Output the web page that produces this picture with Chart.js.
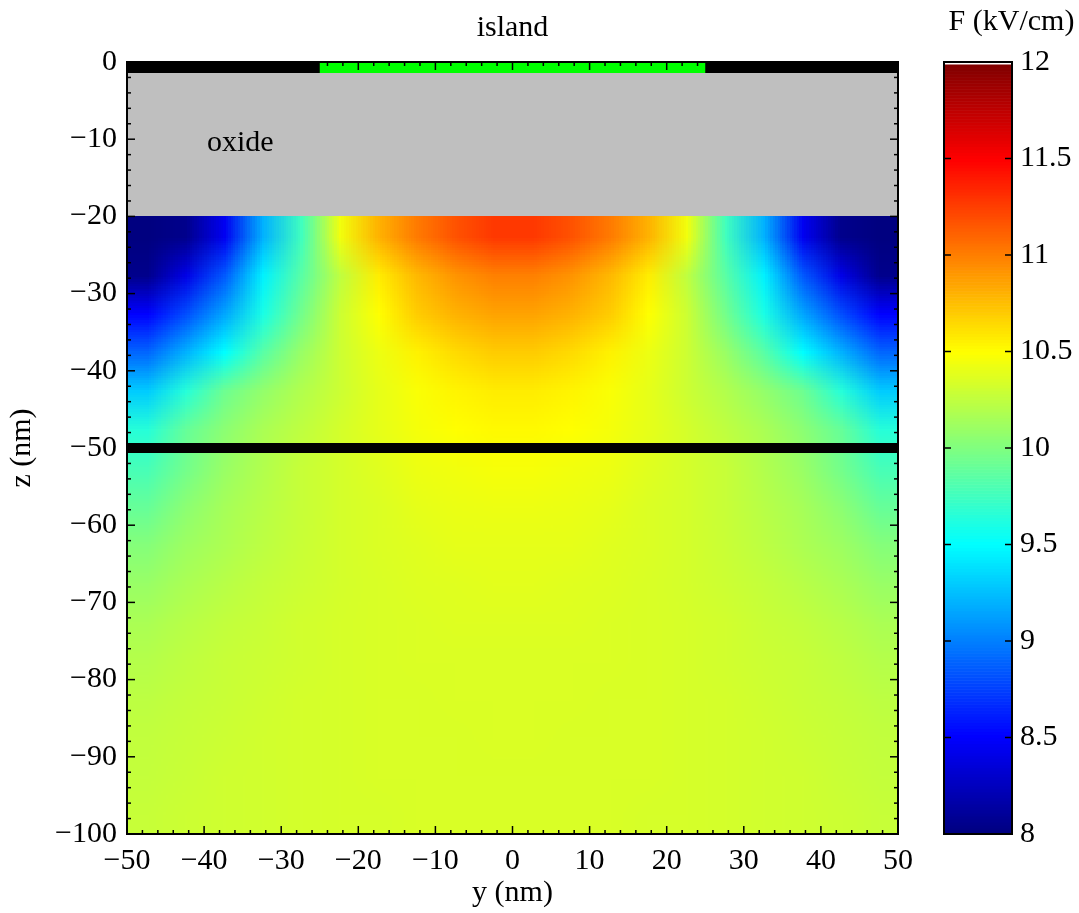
<!DOCTYPE html>
<html>
<head>
<meta charset="utf-8">
<script src="https://cdn.jsdelivr.net/npm/chart.js@4.4.0/dist/chart.umd.min.js"></script>
<style>
  html, body { margin: 0; padding: 0; background: #fff; }
  #wrap { position: relative; width: 1079px; height: 913px; }
  #field { position: absolute; left: 0; top: 0; }
  #bar { position: absolute; left: 937px; top: 0; }
</style>
</head>
<body>
<div id="wrap">
  <canvas id="field" width="1079" height="913"></canvas>
  <canvas id="bar" width="142" height="913"></canvas>
</div>
<script>
// Device geometry (nm)
const contactY = [-50, 50];     // black gate strip at the top
const islandY = [-25, 25];      // green island electrode
const gateZ = -0.7;
const oxideZ = [0, -20];        // oxide layer between z = 0 and -20
const interfaceY = [-50, 50];   // black interface line
const interfaceZ = -50;

// Field samples F (kV/cm): cell centres in y and z, one row per z
const fieldY = [-47.5, -42.5, -37.5, -32.5, -27.5, -22.5, -17.5, -12.5, -7.5, -2.5,
                2.5, 7.5, 12.5, 17.5, 22.5, 27.5, 32.5, 37.5, 42.5, 47.5];
const fieldZ = [-22.5, -27.5, -32.5, -37.5, -42.5, -47.5, -52.5, -57.5,
                -62.5, -67.5, -72.5, -77.5, -82.5, -87.5, -92.5, -97.5];
const fieldF = [
  [7.9, 8.05, 8.45, 9.2, 9.75, 10.45, 10.8, 11.02, 11.18, 11.28, 11.28, 11.18, 11.02, 10.8, 10.45, 9.75, 9.2, 8.45, 8.05, 7.9],
  [8.05, 8.4, 8.85, 9.45, 9.85, 10.25, 10.57, 10.78, 10.92, 11.0, 11.0, 10.92, 10.78, 10.57, 10.25, 9.85, 9.45, 8.85, 8.4, 8.05],
  [8.5, 8.8, 9.15, 9.6, 9.95, 10.3, 10.5, 10.7, 10.8, 10.86, 10.86, 10.8, 10.7, 10.5, 10.3, 9.95, 9.6, 9.15, 8.8, 8.5],
  [8.9, 9.2, 9.5, 9.85, 10.1, 10.3, 10.43, 10.55, 10.64, 10.7, 10.7, 10.64, 10.55, 10.43, 10.3, 10.1, 9.85, 9.5, 9.2, 8.9],
  [9.3, 9.65, 9.93, 10.08, 10.2, 10.3, 10.4, 10.48, 10.54, 10.57, 10.57, 10.54, 10.48, 10.4, 10.3, 10.2, 10.08, 9.93, 9.65, 9.3],
  [9.65, 9.9, 10.05, 10.17, 10.25, 10.33, 10.4, 10.46, 10.5, 10.52, 10.52, 10.5, 10.46, 10.4, 10.33, 10.25, 10.17, 10.05, 9.9, 9.65],
  [9.78, 9.95, 10.1, 10.2, 10.28, 10.33, 10.38, 10.43, 10.45, 10.47, 10.47, 10.45, 10.43, 10.38, 10.33, 10.28, 10.2, 10.1, 9.95, 9.78],
  [9.9, 10.05, 10.15, 10.22, 10.28, 10.33, 10.36, 10.4, 10.42, 10.43, 10.43, 10.42, 10.4, 10.36, 10.33, 10.28, 10.22, 10.15, 10.05, 9.9],
  [10.02, 10.12, 10.18, 10.24, 10.29, 10.33, 10.36, 10.38, 10.4, 10.4, 10.4, 10.4, 10.38, 10.36, 10.33, 10.29, 10.24, 10.18, 10.12, 10.02],
  [10.1, 10.17, 10.22, 10.27, 10.3, 10.33, 10.35, 10.37, 10.38, 10.39, 10.39, 10.38, 10.37, 10.35, 10.33, 10.3, 10.27, 10.22, 10.17, 10.1],
  [10.17, 10.22, 10.26, 10.29, 10.32, 10.34, 10.35, 10.36, 10.37, 10.37, 10.37, 10.37, 10.36, 10.35, 10.34, 10.32, 10.29, 10.26, 10.22, 10.17],
  [10.21, 10.25, 10.28, 10.3, 10.32, 10.34, 10.35, 10.36, 10.36, 10.36, 10.36, 10.36, 10.36, 10.35, 10.34, 10.32, 10.3, 10.28, 10.25, 10.21],
  [10.24, 10.27, 10.29, 10.31, 10.33, 10.34, 10.35, 10.35, 10.36, 10.36, 10.36, 10.36, 10.35, 10.35, 10.34, 10.33, 10.31, 10.29, 10.27, 10.24],
  [10.26, 10.28, 10.3, 10.32, 10.33, 10.34, 10.35, 10.35, 10.35, 10.36, 10.36, 10.35, 10.35, 10.35, 10.34, 10.33, 10.32, 10.3, 10.28, 10.26],
  [10.27, 10.29, 10.31, 10.32, 10.33, 10.34, 10.35, 10.35, 10.35, 10.35, 10.35, 10.35, 10.35, 10.35, 10.34, 10.33, 10.32, 10.31, 10.29, 10.27],
  [10.28, 10.3, 10.31, 10.32, 10.33, 10.34, 10.34, 10.35, 10.35, 10.35, 10.35, 10.35, 10.35, 10.34, 10.34, 10.33, 10.32, 10.31, 10.3, 10.28]
];

// Colour scale
const colorMin = 8;
const colorMax = 12;
const colorLevels = 256;

Chart.defaults.font.family = "'Liberation Serif', 'Times New Roman', serif";
Chart.defaults.font.size = 30;
Chart.defaults.color = "#000";

// MATLAB-like jet colormap, t in [0, 1]
function jet(t) {
  t = Math.min(1, Math.max(0, t));
  const c = (v) => Math.round(255 * Math.min(1, Math.max(0, v)));
  return [c(1.5 - Math.abs(4 * t - 3)), c(1.5 - Math.abs(4 * t - 2)), c(1.5 - Math.abs(4 * t - 1))];
}

// tick labels with a real minus sign
const fmt = (v) => (v < 0 ? "\u2212" + Math.abs(v) : String(v));

function line(ctx, x0, y0, x1, y1) {
  ctx.beginPath();
  ctx.moveTo(x0, y0);
  ctx.lineTo(x1, y1);
  ctx.stroke();
}

// Draws oxide, field map, label, inward ticks and box
const fieldPlugin = {
  id: "fieldMap",
  beforeDatasetsDraw(chart) {
    const { ctx, chartArea, scales: { x, y } } = chart;
    ctx.save();
    ctx.beginPath();
    ctx.rect(chartArea.left, chartArea.top, chartArea.width, chartArea.height);
    ctx.clip();

    // oxide layer
    const ox0 = x.getPixelForValue(contactY[0]);
    const ox1 = x.getPixelForValue(contactY[1]);
    const oz0 = y.getPixelForValue(oxideZ[0]);
    const oz1 = y.getPixelForValue(oxideZ[1]);
    ctx.fillStyle = "#bfbfbf";
    ctx.fillRect(ox0, oz0, ox1 - ox0, oz1 - oz0);

    // field samples, one image pixel per cell, stretched with smoothing
    const img = document.createElement("canvas");
    img.width = fieldY.length;
    img.height = fieldZ.length;
    const ic = img.getContext("2d");
    const pix = ic.createImageData(img.width, img.height);
    fieldF.forEach((row, j) => {
      row.forEach((f, i) => {
        const [r, g, b] = jet((f - colorMin) / (colorMax - colorMin));
        const k = (j * img.width + i) * 4;
        pix.data[k] = r;
        pix.data[k + 1] = g;
        pix.data[k + 2] = b;
        pix.data[k + 3] = 255;
      });
    });
    ic.putImageData(pix, 0, 0);
    const dy = (fieldY[1] - fieldY[0]) / 2;
    const dz = (fieldZ[0] - fieldZ[1]) / 2;
    const x0 = x.getPixelForValue(fieldY[0] - dy);
    const x1 = x.getPixelForValue(fieldY[fieldY.length - 1] + dy);
    const y0 = y.getPixelForValue(fieldZ[0] + dz);
    const y1 = y.getPixelForValue(fieldZ[fieldZ.length - 1] - dz);
    ctx.imageSmoothingEnabled = true;
    ctx.drawImage(img, x0, y0, x1 - x0, y1 - y0);
    ctx.restore();
  },
  afterDatasetsDraw(chart) {
    const { ctx, chartArea: { left, right, top, bottom }, scales: { x, y } } = chart;
    ctx.save();

    // region label
    ctx.fillStyle = "#000";
    ctx.font = "30px 'Liberation Serif', serif";
    ctx.textAlign = "center";
    ctx.textBaseline = "middle";
    ctx.fillText("oxide", x.getPixelForValue(-35.3), y.getPixelForValue(-10.5));

    // inward ticks on all four sides, minor every 2 nm
    ctx.strokeStyle = "#000";
    ctx.lineWidth = 1.5;
    for (let v = -50; v <= 50; v += 2) {
      const px = x.getPixelForValue(v);
      const len = v % 10 === 0 ? 8 : 4;
      line(ctx, px, bottom, px, bottom - len);
      line(ctx, px, top, px, top + len);
    }
    for (let v = -100; v <= 0; v += 2) {
      const py = y.getPixelForValue(v);
      const len = v % 10 === 0 ? 8 : 4;
      line(ctx, left, py, left + len, py);
      line(ctx, right, py, right - len, py);
    }
    ctx.lineWidth = 2;
    ctx.strokeRect(left, top, right - left, bottom - top);
    ctx.restore();
  },
};

// dataset 0 is drawn last, so the island goes first to sit on the gate strip
new Chart(document.getElementById("field"), {
  type: "scatter",
  data: {
    datasets: [
      {
        label: "island",
        data: islandY.map((v) => ({ x: v, y: gateZ })),
        showLine: true,
        borderColor: "#00ff00",
        borderWidth: 11,
        pointRadius: 0,
      },
      {
        label: "gate",
        data: contactY.map((v) => ({ x: v, y: gateZ })),
        showLine: true,
        borderColor: "#000",
        borderWidth: 11,
        pointRadius: 0,
      },
      {
        label: "interface",
        data: interfaceY.map((v) => ({ x: v, y: interfaceZ })),
        showLine: true,
        borderColor: "#000",
        borderWidth: 10,
        pointRadius: 0,
      },
    ],
  },
  options: {
    responsive: false,
    animation: false,
    events: [],
    layout: { padding: { left: 0, right: 181, top: 0, bottom: 0 } },
    plugins: {
      legend: { display: false },
      tooltip: { enabled: false },
      title: {
        display: true,
        text: "island",
        fullSize: false,
        padding: { top: 10, bottom: 16 },
        font: { size: 30, weight: "normal" },
        color: "#000",
      },
    },
    scales: {
      x: {
        type: "linear",
        min: -50,
        max: 50,
        ticks: { stepSize: 10, padding: 9, maxRotation: 0, callback: fmt },
        grid: { display: false, drawTicks: false },
        border: { display: false },
        title: { display: true, text: "y (nm)", padding: { top: 0, bottom: 2 } },
        afterFit: (s) => { s.height = 79; },
      },
      y: {
        type: "linear",
        min: -100,
        max: 0,
        ticks: { stepSize: 10, padding: 10, callback: fmt },
        grid: { display: false, drawTicks: false },
        border: { display: false },
        title: { display: true, text: "z (nm)", padding: { top: 4, bottom: 0 } },
        afterFit: (s) => { s.width = 127; },
      },
    },
  },
  plugins: [fieldPlugin],
});

// Colour bar
const colorbarPlugin = {
  id: "colorbar",
  afterDraw(chart) {
    const { ctx, chartArea: { left, right, top, bottom }, scales: { y } } = chart;
    ctx.save();
    const step = (colorMax - colorMin) / colorLevels;
    for (let i = 0; i < colorLevels; i++) {
      const v0 = colorMin + i * step;
      const p0 = y.getPixelForValue(v0);
      const p1 = y.getPixelForValue(v0 + step);
      const [r, g, b] = jet(i / (colorLevels - 1));
      ctx.fillStyle = `rgb(${r},${g},${b})`;
      ctx.fillRect(left, p1, right - left, p0 - p1 + 0.6);
    }
    ctx.strokeStyle = "#fff";
    ctx.lineWidth = 1.5;
    line(ctx, left, top + 1.8, right, top + 1.8);

    ctx.strokeStyle = "#000";
    ctx.lineWidth = 1.5;
    y.ticks.forEach((t) => {
      const p = y.getPixelForValue(t.value);
      line(ctx, left, p, left + 7, p);
      line(ctx, right, p, right - 7, p);
    });
    ctx.lineWidth = 2;
    ctx.strokeRect(left, top, right - left, bottom - top);
    ctx.restore();
  },
};

new Chart(document.getElementById("bar"), {
  type: "scatter",
  data: { datasets: [] },
  options: {
    responsive: false,
    animation: false,
    events: [],
    layout: { padding: { left: 7, right: 0, top: 0, bottom: 79 } },
    plugins: {
      legend: { display: false },
      tooltip: { enabled: false },
      title: {
        display: true,
        text: "F (kV/cm)",
        padding: { top: 4, bottom: 22 },
        font: { size: 30, weight: "normal" },
        color: "#000",
      },
    },
    scales: {
      x: { display: false, min: 0, max: 1 },
      y: {
        position: "right",
        min: colorMin,
        max: colorMax,
        ticks: { stepSize: 0.5, padding: 8, callback: (v) => String(v) },
        grid: { display: false, drawTicks: false },
        border: { display: false },
        afterFit: (s) => { s.width = 67; },
      },
    },
  },
  plugins: [colorbarPlugin],
});
</script>
</body>
</html>
